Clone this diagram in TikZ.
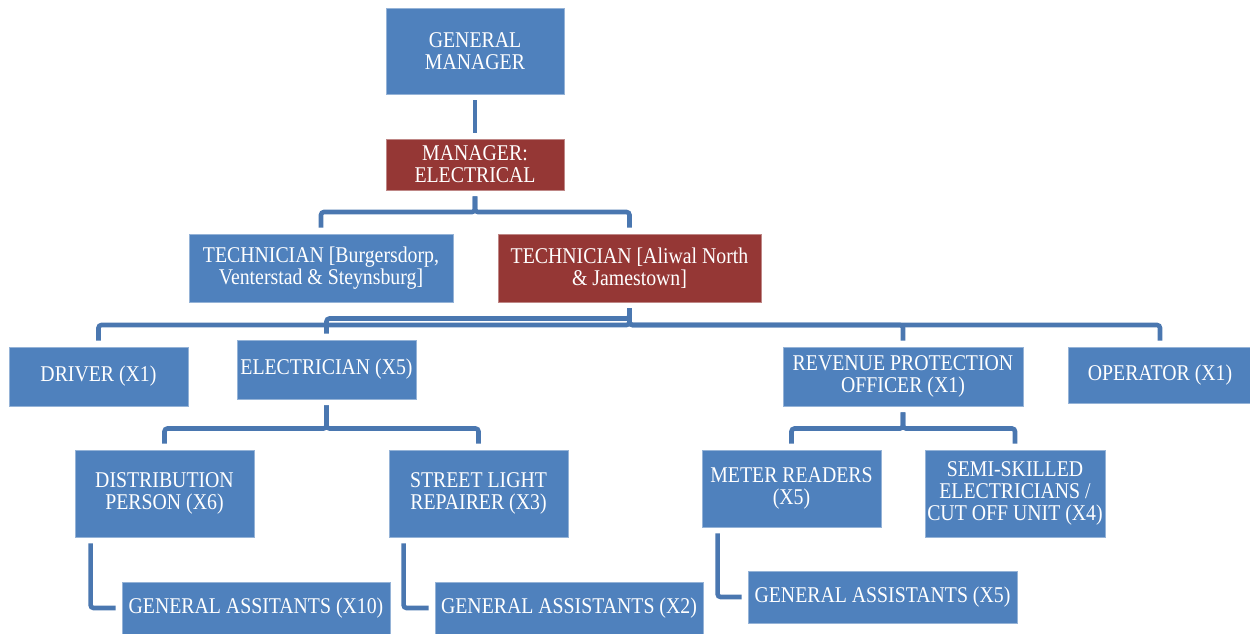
\documentclass[tikz,border=0pt]{standalone}
\usepackage{fontspec}
\setmainfont{Liberation Serif}[FakeStretch=0.88]
\usetikzlibrary{calc}
\definecolor{boxblue}{HTML}{4F81BD}
\definecolor{boxred}{HTML}{953735}
\definecolor{linkblue}{HTML}{4A77B0}
\tikzset{
  x=1pt, y=-1pt,
  orgbox/.style={rectangle, inner sep=0pt, text=white, align=center,
    font=\fontsize{22.5}{22}\selectfont, line width=0.8pt},
  bluebox/.style={orgbox, fill=boxblue, draw=boxblue!60!white},
  redbox/.style={orgbox, fill=boxred, draw=boxred!60!white},
  link/.style={draw=linkblue, line width=4.6pt, rounded corners=3pt,
    shorten <=6pt, shorten >=6pt}
}
\begin{document}
\begin{tikzpicture}
\useasboundingbox (0,0) rectangle (1250,633);
\fill[white] (0,0) rectangle (1250,633);

% top of the hierarchy
\node[bluebox, minimum width=178pt, minimum height=86pt] (gm) at (475,51) {GENERAL\\MANAGER};
\node[redbox, minimum width=178pt, minimum height=51pt] (me) at (475,164.5) {MANAGER:\\ELECTRICAL};
\node[bluebox, minimum width=264pt, minimum height=68pt] (t1) at (321,268) {TECHNICIAN [Burgersdorp,\\Venterstad \& Steynsburg]};
\node[redbox, minimum width=263pt, minimum height=68pt] (t2) at (629.5,268) {TECHNICIAN [Aliwal North\\\& Jamestown]};

% third row
\node[bluebox, minimum width=179pt, minimum height=59pt] (drv) at (98.5,376.5) {DRIVER (X1)};
\node[bluebox, minimum width=179pt, minimum height=59pt] (ele) at (326.5,369.5) {ELECTRICIAN (X5)};
\node[bluebox, minimum width=240pt, minimum height=59pt] (rev) at (903,376.5) {REVENUE PROTECTION\\OFFICER (X1)};
\node[bluebox, minimum width=184pt, minimum height=56pt] (opr) at (1160,375) {OPERATOR (X1)};

% fourth row
\node[bluebox, minimum width=179pt, minimum height=87pt] (dst) at (164.5,493.5) {DISTRIBUTION\\PERSON (X6)};
\node[bluebox, minimum width=179pt, minimum height=87pt] (str) at (478.5,493.5) {STREET LIGHT\\REPAIRER (X3)};
\node[bluebox, minimum width=179pt, minimum height=77pt] (mtr) at (791.5,488.5) {METER READERS\\(X5)};
\node[bluebox, minimum width=180pt, minimum height=87pt] (sem) at (1015,493.5) {SEMI-SKILLED\\ELECTRICIANS /\\CUT OFF UNIT (X4)};

% assistants
\node[bluebox, minimum width=268pt, minimum height=52pt] (ga10) at (256,608) {GENERAL ASSITANTS (X10)};
\node[bluebox, minimum width=268pt, minimum height=52pt] (ga2) at (569,608) {GENERAL ASSISTANTS (X2)};
\node[bluebox, minimum width=269pt, minimum height=52pt] (ga5) at (882.5,597) {GENERAL ASSISTANTS (X5)};

% bus levels
\coordinate (l1) at (0,212);
\coordinate (l2a) at (0,318.5);
\coordinate (l2b) at (0,325);
\coordinate (l3) at (0,428.5);

% connectors
\draw[link] (gm.south) -- (me.north);
\draw[link] (me.south) -- (me.south |- l1) -| (t1.north);
\draw[link] (me.south) -- (me.south |- l1) -| (t2.north);

\draw[link] (t2.south) -- (t2.south |- l2a) -| (ele.north);
\draw[link] (t2.south) -- (t2.south |- l2b) -| (drv.north);
\draw[link] (t2.south) -- (t2.south |- l2b) -| (rev.north);
\draw[link] (t2.south) -- (t2.south |- l2b) -| (opr.north);

\draw[link] (ele.south) -- (ele.south |- l3) -| (dst.north);
\draw[link] (ele.south) -- (ele.south |- l3) -| (str.north);
\draw[link] (rev.south) -- (rev.south |- l3) -| (mtr.north);
\draw[link] (rev.south) -- (rev.south |- l3) -| (sem.north);

\draw[link] ($(dst.south west)+(16,0)$) |- (ga10.west);
\draw[link] ($(str.south west)+(15,0)$) |- (ga2.west);
\draw[link] ($(mtr.south west)+(16,0)$) |- (ga5.west);
\end{tikzpicture}
\end{document}
